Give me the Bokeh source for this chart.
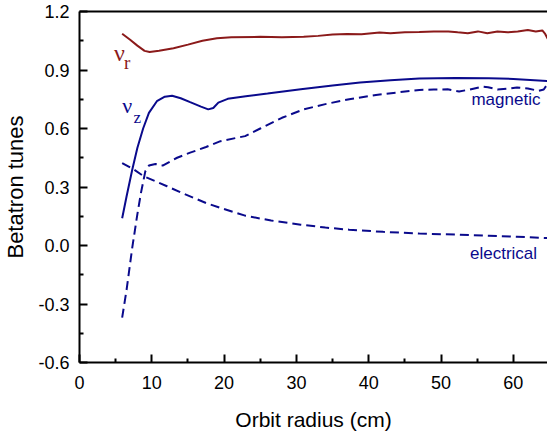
import math
from bokeh.plotting import figure
from bokeh.models import Label, LinearAxis, FixedTicker, PrintfTickFormatter, Range1d
from bokeh.embed import file_html
from bokeh.resources import INLINE

# nu_r (radial tune)
nur_x = [5.9, 7.0, 8.0, 9.0, 9.7, 11, 13, 15, 17, 19, 21, 25, 28, 31, 33, 35, 37, 39, 41.5, 43,
         45, 47, 49, 51, 52.3, 53.7, 55.1, 56.4, 57.8, 59.2, 60.6, 62.0, 63.1, 64.0, 64.4, 64.75]
nur_y = [1.086, 1.055, 1.025, 0.998, 0.992, 0.999, 1.012, 1.03, 1.05, 1.063, 1.068, 1.07, 1.068,
         1.07, 1.075, 1.082, 1.085, 1.083, 1.092, 1.089, 1.093, 1.095, 1.098, 1.097, 1.093, 1.089,
         1.098, 1.089, 1.098, 1.093, 1.098, 1.105, 1.098, 1.103, 1.085, 1.06]

# nu_z total (solid)
nuz_x = [5.9, 6.5, 7.3, 8.0, 8.8, 9.6, 10.7, 11.8, 12.8, 14, 15.3, 16.8, 17.8, 18.5, 19.2, 20.5,
         23, 26, 30.6, 35, 38.8, 43, 47, 52, 56.6, 60, 64.75]
nuz_y = [0.14, 0.25, 0.39, 0.50, 0.60, 0.68, 0.74, 0.763, 0.768, 0.755, 0.735, 0.712, 0.698,
         0.705, 0.733, 0.752, 0.765, 0.779, 0.801, 0.82, 0.836, 0.848, 0.856, 0.859, 0.858, 0.854,
         0.844]

# magnetic contribution (dashed)
mag_x = [5.9, 6.5, 7.3, 8.0, 8.5, 9.1, 9.6, 10.5, 11.5, 12.5, 13.5, 15.3, 17.5, 19.5, 22.9, 25,
         28, 31, 34, 37.3, 41, 44, 47, 49, 50.9, 52.5, 54, 55.7, 56.5, 57.8, 59.5, 60.5, 62, 63.5,
         64.2, 64.75]
mag_y = [-0.37, -0.23, -0.01, 0.16, 0.27, 0.38, 0.41, 0.418, 0.41, 0.43, 0.45, 0.476, 0.505,
         0.535, 0.561, 0.6, 0.655, 0.698, 0.725, 0.75, 0.772, 0.785, 0.798, 0.80, 0.801, 0.79,
         0.80, 0.815, 0.812, 0.80, 0.805, 0.81, 0.805, 0.793, 0.80, 0.83]

# electrical contribution (dashed)
ele_x = [5.9, 7.5, 8.9, 10.5, 12.1, 14, 15.8, 17.5, 19.5, 22.9, 26.5, 30.6, 34, 37.3, 42, 47,
         52, 56.6, 60.5, 64.75]
ele_y = [0.422, 0.39, 0.355, 0.33, 0.304, 0.272, 0.244, 0.218, 0.193, 0.153, 0.128, 0.107, 0.092,
         0.081, 0.07, 0.061, 0.056, 0.05, 0.045, 0.038]

x_ticks = [0, 10, 20, 30, 40, 50, 60]
y_ticks = [-0.6, -0.3, 0.0, 0.3, 0.6, 0.9, 1.2]

RED = "#8b1a1a"
BLUE = "#0a0a8c"

p = figure(width=547, height=433, output_backend="svg", toolbar_location=None,
           x_range=Range1d(0, 64.72), y_range=Range1d(-0.6, 1.2),
           min_border_left=78, min_border_right=0, min_border_top=11, min_border_bottom=71)
p.xgrid.visible = False
p.ygrid.visible = False
p.outline_line_color = None
p.background_fill_color = "white"

for ax in (p.xaxis[0], p.yaxis[0]):
    ax.axis_line_width = 2
    ax.axis_line_color = "black"
    ax.major_tick_in = 8
    ax.major_tick_out = 0
    ax.minor_tick_in = 4
    ax.minor_tick_out = 0
    ax.major_tick_line_width = 2
    ax.minor_tick_line_width = 2
    ax.major_tick_line_color = "black"
    ax.minor_tick_line_color = "black"
    ax.major_label_text_font = "Liberation Sans"
    ax.major_label_text_font_size = "18px"
    ax.major_label_text_color = "black"
    ax.axis_label_text_font = "Liberation Sans"
    ax.axis_label_text_font_style = "normal"
    ax.axis_label_text_color = "black"

p.xaxis[0].ticker = FixedTicker(ticks=x_ticks, minor_ticks=[5, 15, 25, 35, 45, 55])
p.yaxis[0].ticker = FixedTicker(ticks=y_ticks,
                                minor_ticks=[-0.45, -0.15, 0.15, 0.45, 0.75, 1.05])
p.yaxis[0].formatter = PrintfTickFormatter(format="%.1f")
p.xaxis[0].major_label_standoff = 13
p.yaxis[0].major_label_standoff = 10

p.xaxis[0].axis_label = "Orbit radius (cm)"
p.xaxis[0].axis_label_text_font_size = "21px"
p.xaxis[0].axis_label_standoff = 16
p.yaxis[0].axis_label = "Betatron tunes"
p.yaxis[0].axis_label_text_font_size = "22px"
p.yaxis[0].axis_label_standoff = 7

top = LinearAxis(ticker=FixedTicker(ticks=[]), axis_line_width=2, axis_line_color="black",
                 major_tick_out=0, major_tick_in=0, minor_tick_out=0, minor_tick_in=0,
                 major_label_standoff=0, major_label_text_font_size="0px")
p.add_layout(top, "above")

p.line(nur_x, nur_y, line_color=RED, line_width=2)
p.line(nuz_x, nuz_y, line_color=BLUE, line_width=2)
p.line(mag_x, mag_y, line_color=BLUE, line_width=2, line_dash="9 5")
p.line(ele_x, ele_y, line_color=BLUE, line_width=2, line_dash="9 5")

# curve labels
p.add_layout(Label(x=4.76, y=0.921, text="\u03bd", text_font="Liberation Serif",
                   text_font_size="24px", text_color=RED))
p.add_layout(Label(x=6.14, y=0.887, text="r", text_font="Liberation Serif",
                   text_font_size="19px", text_color=RED))
p.add_layout(Label(x=5.92, y=0.656, text="\u03bd", text_font="Liberation Serif",
                   text_font_size="22px", text_color=BLUE))
p.add_layout(Label(x=7.48, y=0.609, text="z", text_font="Liberation Serif",
                   text_font_size="17px", text_color=BLUE))
p.add_layout(Label(x=54.2, y=0.701, text="magnetic", text_font="Liberation Sans",
                   text_font_size="17px", text_color=BLUE))
p.add_layout(Label(x=54.0, y=-0.089, text="electrical", text_font="Liberation Sans",
                   text_font_size="17px", text_color=BLUE))

open("out.html", "w").write(file_html(p, INLINE))
